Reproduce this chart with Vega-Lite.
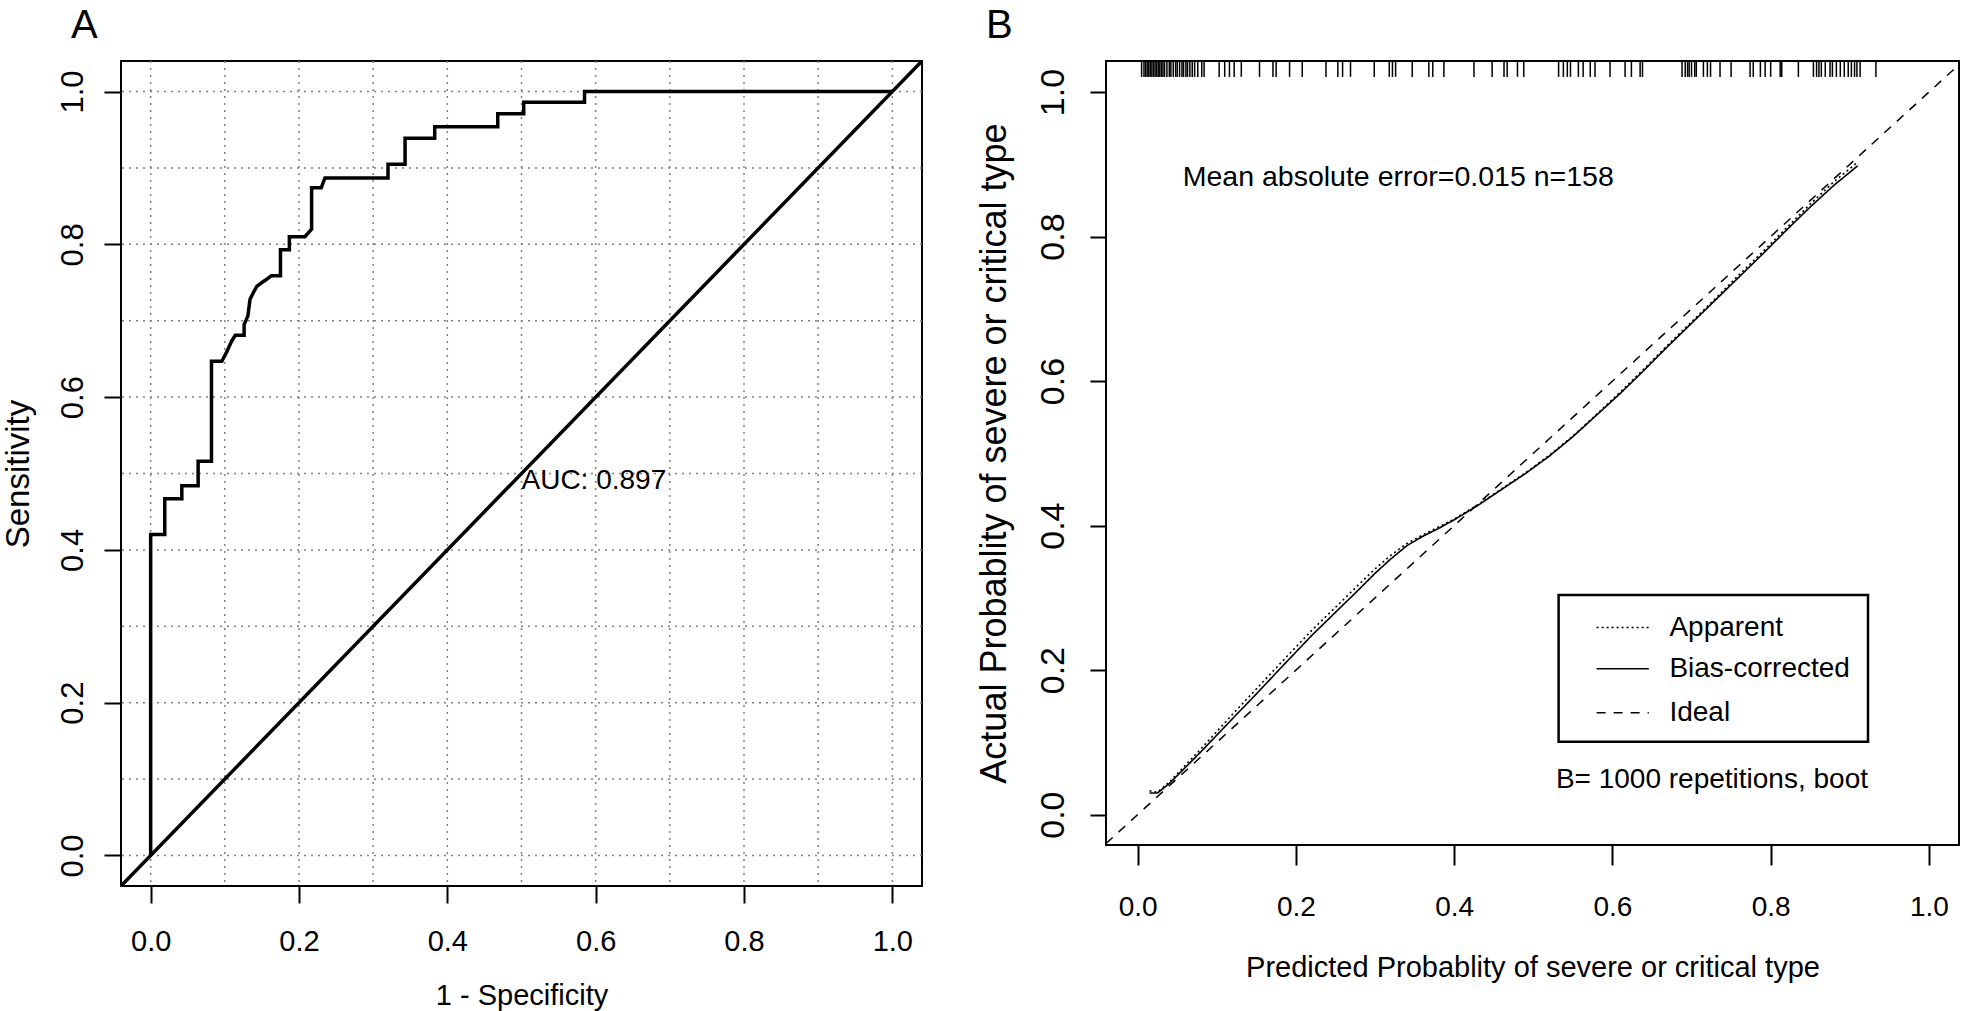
{
  "$schema": "https://vega.github.io/schema/vega-lite/v6.json",
  "padding": {"left": 0, "top": 5, "right": 0, "bottom": 0},
  "bounds": "flush",
  "spacing": 184,
  "config": {
    "font": "Liberation Sans",
    "view": {"stroke": "black", "strokeWidth": 2},
    "axis": {"domain": false, "grid": false, "tickColor": "black", "tickWidth": 2, "labelColor": "black", "titleColor": "black", "titleFontWeight": "normal", "labelFont": "Liberation Sans", "titleFont": "Liberation Sans", "labelFlush": false, "labelOverlap": false, "labelBound": false},
    "title": {"color": "black", "font": "Liberation Sans", "fontWeight": "normal"},
    "text": {"font": "Liberation Sans", "color": "black"},
    "line": {"color": "black"},
    "rule": {"color": "black"}
  },
  "datasets": {
    "grid": [{"g": 0}, {"g": 0.1}, {"g": 0.2}, {"g": 0.3}, {"g": 0.4}, {"g": 0.5}, {"g": 0.6}, {"g": 0.7}, {"g": 0.8}, {"g": 0.9}, {"g": 1.0}],
    "roc": [
      {"ord": 0, "fpr": 0, "tpr": 0},
      {"ord": 1, "fpr": 0, "tpr": 0.42},
      {"ord": 2, "fpr": 0.019, "tpr": 0.42},
      {"ord": 3, "fpr": 0.019, "tpr": 0.467},
      {"ord": 4, "fpr": 0.042, "tpr": 0.467},
      {"ord": 5, "fpr": 0.042, "tpr": 0.484},
      {"ord": 6, "fpr": 0.064, "tpr": 0.484},
      {"ord": 7, "fpr": 0.064, "tpr": 0.516},
      {"ord": 8, "fpr": 0.082, "tpr": 0.516},
      {"ord": 9, "fpr": 0.082, "tpr": 0.647},
      {"ord": 10, "fpr": 0.096, "tpr": 0.647},
      {"ord": 11, "fpr": 0.103, "tpr": 0.66},
      {"ord": 12, "fpr": 0.109, "tpr": 0.673},
      {"ord": 13, "fpr": 0.114, "tpr": 0.681},
      {"ord": 14, "fpr": 0.126, "tpr": 0.681},
      {"ord": 15, "fpr": 0.126, "tpr": 0.695},
      {"ord": 16, "fpr": 0.131, "tpr": 0.706},
      {"ord": 17, "fpr": 0.134, "tpr": 0.728},
      {"ord": 18, "fpr": 0.138, "tpr": 0.736},
      {"ord": 19, "fpr": 0.143, "tpr": 0.745},
      {"ord": 20, "fpr": 0.15, "tpr": 0.75},
      {"ord": 21, "fpr": 0.156, "tpr": 0.754},
      {"ord": 22, "fpr": 0.163, "tpr": 0.759},
      {"ord": 23, "fpr": 0.175, "tpr": 0.759},
      {"ord": 24, "fpr": 0.175, "tpr": 0.793},
      {"ord": 25, "fpr": 0.187, "tpr": 0.793},
      {"ord": 26, "fpr": 0.187, "tpr": 0.81},
      {"ord": 27, "fpr": 0.208, "tpr": 0.81},
      {"ord": 28, "fpr": 0.217, "tpr": 0.82},
      {"ord": 29, "fpr": 0.217, "tpr": 0.874},
      {"ord": 30, "fpr": 0.23, "tpr": 0.874},
      {"ord": 31, "fpr": 0.235, "tpr": 0.887},
      {"ord": 32, "fpr": 0.32, "tpr": 0.887},
      {"ord": 33, "fpr": 0.32, "tpr": 0.905},
      {"ord": 34, "fpr": 0.343, "tpr": 0.905},
      {"ord": 35, "fpr": 0.343, "tpr": 0.939},
      {"ord": 36, "fpr": 0.383, "tpr": 0.939},
      {"ord": 37, "fpr": 0.383, "tpr": 0.954},
      {"ord": 38, "fpr": 0.468, "tpr": 0.954},
      {"ord": 39, "fpr": 0.468, "tpr": 0.971},
      {"ord": 40, "fpr": 0.503, "tpr": 0.971},
      {"ord": 41, "fpr": 0.503, "tpr": 0.986},
      {"ord": 42, "fpr": 0.585, "tpr": 0.986},
      {"ord": 43, "fpr": 0.585, "tpr": 1.0},
      {"ord": 44, "fpr": 1.0, "tpr": 1.0}
    ],
    "diagA": [{"r": -0.04}, {"r": 1.04}],
    "ideal": [{"p": -0.04}, {"p": 1.035}],
    "cal": [
      {"series": "Bias-corrected", "pred": 0.015, "obs": 0.030},
      {"series": "Bias-corrected", "pred": 0.025, "obs": 0.030},
      {"series": "Bias-corrected", "pred": 0.04, "obs": 0.043},
      {"series": "Bias-corrected", "pred": 0.06, "obs": 0.065},
      {"series": "Bias-corrected", "pred": 0.08, "obs": 0.087},
      {"series": "Bias-corrected", "pred": 0.10, "obs": 0.110},
      {"series": "Bias-corrected", "pred": 0.12, "obs": 0.133},
      {"series": "Bias-corrected", "pred": 0.15, "obs": 0.167},
      {"series": "Bias-corrected", "pred": 0.18, "obs": 0.202},
      {"series": "Bias-corrected", "pred": 0.20, "obs": 0.225},
      {"series": "Bias-corrected", "pred": 0.22, "obs": 0.248},
      {"series": "Bias-corrected", "pred": 0.25, "obs": 0.280},
      {"series": "Bias-corrected", "pred": 0.28, "obs": 0.312},
      {"series": "Bias-corrected", "pred": 0.30, "obs": 0.334},
      {"series": "Bias-corrected", "pred": 0.32, "obs": 0.354},
      {"series": "Bias-corrected", "pred": 0.34, "obs": 0.372},
      {"series": "Bias-corrected", "pred": 0.36, "obs": 0.385},
      {"series": "Bias-corrected", "pred": 0.38, "obs": 0.396},
      {"series": "Bias-corrected", "pred": 0.40, "obs": 0.408},
      {"series": "Bias-corrected", "pred": 0.43, "obs": 0.428},
      {"series": "Bias-corrected", "pred": 0.46, "obs": 0.450},
      {"series": "Bias-corrected", "pred": 0.49, "obs": 0.472},
      {"series": "Bias-corrected", "pred": 0.52, "obs": 0.496},
      {"series": "Bias-corrected", "pred": 0.55, "obs": 0.523},
      {"series": "Bias-corrected", "pred": 0.58, "obs": 0.553},
      {"series": "Bias-corrected", "pred": 0.61, "obs": 0.583},
      {"series": "Bias-corrected", "pred": 0.64, "obs": 0.615},
      {"series": "Bias-corrected", "pred": 0.67, "obs": 0.648},
      {"series": "Bias-corrected", "pred": 0.70, "obs": 0.680},
      {"series": "Bias-corrected", "pred": 0.73, "obs": 0.712},
      {"series": "Bias-corrected", "pred": 0.76, "obs": 0.744},
      {"series": "Bias-corrected", "pred": 0.79, "obs": 0.776},
      {"series": "Bias-corrected", "pred": 0.82, "obs": 0.809},
      {"series": "Bias-corrected", "pred": 0.85, "obs": 0.841},
      {"series": "Bias-corrected", "pred": 0.88, "obs": 0.871},
      {"series": "Bias-corrected", "pred": 0.91, "obs": 0.898},
      {"series": "Apparent", "pred": 0.015, "obs": 0.033},
      {"series": "Apparent", "pred": 0.025, "obs": 0.031},
      {"series": "Apparent", "pred": 0.04, "obs": 0.045},
      {"series": "Apparent", "pred": 0.06, "obs": 0.068},
      {"series": "Apparent", "pred": 0.08, "obs": 0.091},
      {"series": "Apparent", "pred": 0.10, "obs": 0.115},
      {"series": "Apparent", "pred": 0.12, "obs": 0.139},
      {"series": "Apparent", "pred": 0.15, "obs": 0.174},
      {"series": "Apparent", "pred": 0.18, "obs": 0.209},
      {"series": "Apparent", "pred": 0.20, "obs": 0.232},
      {"series": "Apparent", "pred": 0.22, "obs": 0.255},
      {"series": "Apparent", "pred": 0.25, "obs": 0.287},
      {"series": "Apparent", "pred": 0.28, "obs": 0.319},
      {"series": "Apparent", "pred": 0.30, "obs": 0.340},
      {"series": "Apparent", "pred": 0.32, "obs": 0.359},
      {"series": "Apparent", "pred": 0.34, "obs": 0.375},
      {"series": "Apparent", "pred": 0.36, "obs": 0.387},
      {"series": "Apparent", "pred": 0.38, "obs": 0.398},
      {"series": "Apparent", "pred": 0.40, "obs": 0.409},
      {"series": "Apparent", "pred": 0.43, "obs": 0.429},
      {"series": "Apparent", "pred": 0.46, "obs": 0.451},
      {"series": "Apparent", "pred": 0.49, "obs": 0.473},
      {"series": "Apparent", "pred": 0.52, "obs": 0.497},
      {"series": "Apparent", "pred": 0.55, "obs": 0.524},
      {"series": "Apparent", "pred": 0.58, "obs": 0.554},
      {"series": "Apparent", "pred": 0.61, "obs": 0.585},
      {"series": "Apparent", "pred": 0.64, "obs": 0.617},
      {"series": "Apparent", "pred": 0.67, "obs": 0.650},
      {"series": "Apparent", "pred": 0.70, "obs": 0.682},
      {"series": "Apparent", "pred": 0.73, "obs": 0.714},
      {"series": "Apparent", "pred": 0.76, "obs": 0.747},
      {"series": "Apparent", "pred": 0.79, "obs": 0.779},
      {"series": "Apparent", "pred": 0.82, "obs": 0.812},
      {"series": "Apparent", "pred": 0.85, "obs": 0.845},
      {"series": "Apparent", "pred": 0.88, "obs": 0.876},
      {"series": "Apparent", "pred": 0.91, "obs": 0.903}
    ],
    "rug": [
      {"u": 0.005}, {"u": 0.008}, {"u": 0.010}, {"u": 0.012}, {"u": 0.014}, {"u": 0.016}, {"u": 0.018}, {"u": 0.020},
      {"u": 0.022}, {"u": 0.024}, {"u": 0.026}, {"u": 0.028}, {"u": 0.030}, {"u": 0.032}, {"u": 0.034}, {"u": 0.037},
      {"u": 0.040}, {"u": 0.042}, {"u": 0.045}, {"u": 0.048}, {"u": 0.050}, {"u": 0.053}, {"u": 0.056}, {"u": 0.058},
      {"u": 0.061}, {"u": 0.063}, {"u": 0.066}, {"u": 0.069}, {"u": 0.072}, {"u": 0.076}, {"u": 0.081}, {"u": 0.084},
      {"u": 0.103}, {"u": 0.110}, {"u": 0.116}, {"u": 0.122}, {"u": 0.131}, {"u": 0.154}, {"u": 0.171}, {"u": 0.175},
      {"u": 0.192}, {"u": 0.208}, {"u": 0.238}, {"u": 0.253}, {"u": 0.259}, {"u": 0.269}, {"u": 0.299}, {"u": 0.318},
      {"u": 0.322}, {"u": 0.326}, {"u": 0.347}, {"u": 0.368}, {"u": 0.373}, {"u": 0.387}, {"u": 0.425}, {"u": 0.448},
      {"u": 0.463}, {"u": 0.467}, {"u": 0.480}, {"u": 0.488}, {"u": 0.532}, {"u": 0.538}, {"u": 0.543}, {"u": 0.547},
      {"u": 0.557}, {"u": 0.563}, {"u": 0.572}, {"u": 0.578}, {"u": 0.597}, {"u": 0.616}, {"u": 0.624}, {"u": 0.635},
      {"u": 0.638}, {"u": 0.688}, {"u": 0.692}, {"u": 0.695}, {"u": 0.697}, {"u": 0.700}, {"u": 0.704}, {"u": 0.706},
      {"u": 0.715}, {"u": 0.720}, {"u": 0.724}, {"u": 0.736}, {"u": 0.750}, {"u": 0.774}, {"u": 0.778}, {"u": 0.787},
      {"u": 0.793}, {"u": 0.800}, {"u": 0.812}, {"u": 0.814}, {"u": 0.835}, {"u": 0.854}, {"u": 0.858}, {"u": 0.861},
      {"u": 0.864}, {"u": 0.869}, {"u": 0.875}, {"u": 0.878}, {"u": 0.883}, {"u": 0.888}, {"u": 0.893}, {"u": 0.898},
      {"u": 0.902}, {"u": 0.906}, {"u": 0.909}, {"u": 0.913}, {"u": 0.933}
    ]
  },
  "hconcat": [
    {
      "width": 801,
      "height": 825,
      "title": {"text": "A", "anchor": "start", "frame": "group", "fontSize": 40, "dx": -50, "offset": -18, "baseline": "alphabetic"},
      "layer": [
        {
          "data": {"name": "grid"},
          "mark": {"type": "rule", "stroke": "#808080", "strokeWidth": 1.5, "strokeDash": [2, 5]},
          "encoding": {
            "x": {"field": "g", "type": "quantitative", "scale": {"domain": [-0.04, 1.04], "nice": false, "zero": false},
              "axis": {"values": [0, 0.2, 0.4, 0.6, 0.8, 1.0], "format": ".1f", "tickSize": 17, "labelFontSize": 29, "labelPadding": 24, "title": "1 - Specificity", "titleFontSize": 29, "titlePadding": 25}}
          }
        },
        {
          "data": {"name": "grid"},
          "mark": {"type": "rule", "stroke": "#808080", "strokeWidth": 1.5, "strokeDash": [2, 5]},
          "encoding": {
            "y": {"field": "g", "type": "quantitative", "scale": {"domain": [-0.04, 1.04], "nice": false, "zero": false},
              "axis": {"values": [0, 0.2, 0.4, 0.6, 0.8, 1.0], "format": ".1f", "tickSize": 17, "labelFontSize": 31, "labelAngle": 270, "labelAlign": "center", "labelBaseline": "alphabetic", "labelPadding": 22, "title": "Sensitivity", "titleFontSize": 33, "titlePadding": 22}}
          }
        },
        {
          "data": {"name": "diagA"},
          "mark": {"type": "line", "strokeWidth": 3.5, "clip": true},
          "encoding": {
            "x": {"field": "r", "type": "quantitative", "scale": {"domain": [-0.04, 1.04], "nice": false, "zero": false}},
            "y": {"field": "r", "type": "quantitative", "scale": {"domain": [-0.04, 1.04], "nice": false, "zero": false}}
          }
        },
        {
          "data": {"name": "roc"},
          "mark": {"type": "line", "strokeWidth": 3.5, "strokeJoin": "miter"},
          "encoding": {
            "x": {"field": "fpr", "type": "quantitative", "scale": {"domain": [-0.04, 1.04], "nice": false, "zero": false}},
            "y": {"field": "tpr", "type": "quantitative", "scale": {"domain": [-0.04, 1.04], "nice": false, "zero": false}},
            "order": {"field": "ord", "type": "quantitative"}
          }
        },
        {
          "data": {"values": [{"label": "AUC: 0.897"}]},
          "mark": {"type": "text", "align": "left", "baseline": "top", "fontSize": 28},
          "encoding": {
            "x": {"datum": 0.5, "type": "quantitative", "scale": {"domain": [-0.04, 1.04], "nice": false, "zero": false}},
            "y": {"datum": 0.508, "type": "quantitative", "scale": {"domain": [-0.04, 1.04], "nice": false, "zero": false}},
            "text": {"field": "label"}
          }
        }
      ]
    },
    {
      "width": 853,
      "height": 784,
      "title": {"text": "B", "anchor": "start", "frame": "group", "fontSize": 40, "dx": -120, "offset": -18, "baseline": "alphabetic"},
      "layer": [
        {
          "data": {"name": "rug"},
          "mark": {"type": "rule", "strokeWidth": 1.5},
          "encoding": {
            "x": {"field": "u", "type": "quantitative", "scale": {"domain": [-0.04, 1.038], "nice": false, "zero": false},
              "axis": {"values": [0, 0.2, 0.4, 0.6, 0.8, 1.0], "format": ".1f", "tickSize": 20, "labelFontSize": 28, "labelPadding": 28, "title": "Predicted Probablity of severe or critical type", "titleFontSize": 29, "titlePadding": 32}},
            "y": {"datum": 1.043, "type": "quantitative", "scale": {"domain": [-0.042, 1.043], "nice": false, "zero": false},
              "axis": {"values": [0, 0.2, 0.4, 0.6, 0.8, 1.0], "format": ".1f", "tickSize": 16, "labelFontSize": 34, "labelAngle": 270, "labelAlign": "center", "labelBaseline": "alphabetic", "labelPadding": 27, "title": "Actual Probablity of severe or critical type", "titleFontSize": 36, "titlePadding": 23}},
            "y2": {"datum": 1.021}
          }
        },
        {
          "data": {"name": "ideal"},
          "mark": {"type": "line", "strokeWidth": 1.5, "strokeDash": [9, 8]},
          "encoding": {
            "x": {"field": "p", "type": "quantitative", "scale": {"domain": [-0.04, 1.038], "nice": false, "zero": false}},
            "y": {"field": "p", "type": "quantitative", "scale": {"domain": [-0.042, 1.043], "nice": false, "zero": false}}
          }
        },
        {
          "data": {"name": "cal"},
          "mark": {"type": "line", "strokeWidth": 1.6},
          "encoding": {
            "x": {"field": "pred", "type": "quantitative", "scale": {"domain": [-0.04, 1.038], "nice": false, "zero": false}},
            "y": {"field": "obs", "type": "quantitative", "scale": {"domain": [-0.042, 1.043], "nice": false, "zero": false}},
            "detail": {"field": "series", "type": "nominal"},
            "strokeDash": {"field": "series", "type": "nominal", "scale": {"domain": ["Apparent", "Bias-corrected"], "range": [[2, 3], [1, 0]]}, "legend": null}
          }
        },
        {
          "data": {"values": [{"label": "box"}]},
          "mark": {"type": "rect", "fillOpacity": 0, "stroke": "black", "strokeWidth": 2.5},
          "encoding": {
            "x": {"datum": 0.532, "type": "quantitative", "scale": {"domain": [-0.04, 1.038], "nice": false, "zero": false}},
            "x2": {"datum": 0.923},
            "y": {"datum": 0.101, "type": "quantitative", "scale": {"domain": [-0.042, 1.043], "nice": false, "zero": false}},
            "y2": {"datum": 0.304}
          }
        },
        {
          "data": {"values": [{"label": "Apparent"}]},
          "mark": {"type": "rule", "strokeWidth": 1.6, "strokeDash": [2, 3]},
          "encoding": {
            "x": {"datum": 0.58, "type": "quantitative", "scale": {"domain": [-0.04, 1.038], "nice": false, "zero": false}},
            "x2": {"datum": 0.646},
            "y": {"datum": 0.259, "type": "quantitative", "scale": {"domain": [-0.042, 1.043], "nice": false, "zero": false}}
          }
        },
        {
          "data": {"values": [{"label": "Bias-corrected"}]},
          "mark": {"type": "rule", "strokeWidth": 1.6},
          "encoding": {
            "x": {"datum": 0.58, "type": "quantitative", "scale": {"domain": [-0.04, 1.038], "nice": false, "zero": false}},
            "x2": {"datum": 0.646},
            "y": {"datum": 0.202, "type": "quantitative", "scale": {"domain": [-0.042, 1.043], "nice": false, "zero": false}}
          }
        },
        {
          "data": {"values": [{"label": "Ideal"}]},
          "mark": {"type": "rule", "strokeWidth": 1.6, "strokeDash": [9, 8]},
          "encoding": {
            "x": {"datum": 0.58, "type": "quantitative", "scale": {"domain": [-0.04, 1.038], "nice": false, "zero": false}},
            "x2": {"datum": 0.646},
            "y": {"datum": 0.141, "type": "quantitative", "scale": {"domain": [-0.042, 1.043], "nice": false, "zero": false}}
          }
        },
        {
          "data": {"values": [{"label": "Apparent", "ly": 0.259}, {"label": "Bias-corrected", "ly": 0.202}, {"label": "Ideal", "ly": 0.141}]},
          "mark": {"type": "text", "align": "left", "baseline": "middle", "fontSize": 28},
          "encoding": {
            "x": {"datum": 0.672, "type": "quantitative", "scale": {"domain": [-0.04, 1.038], "nice": false, "zero": false}},
            "y": {"field": "ly", "type": "quantitative", "scale": {"domain": [-0.042, 1.043], "nice": false, "zero": false}},
            "text": {"field": "label"}
          }
        },
        {
          "data": {"values": [{"label": "Mean absolute error=0.015 n=158"}]},
          "mark": {"type": "text", "align": "left", "baseline": "middle", "fontSize": 28.5},
          "encoding": {
            "x": {"datum": 0.057, "type": "quantitative", "scale": {"domain": [-0.04, 1.038], "nice": false, "zero": false}},
            "y": {"datum": 0.882, "type": "quantitative", "scale": {"domain": [-0.042, 1.043], "nice": false, "zero": false}},
            "text": {"field": "label"}
          }
        },
        {
          "data": {"values": [{"label": "B= 1000 repetitions, boot"}]},
          "mark": {"type": "text", "align": "right", "baseline": "middle", "fontSize": 28},
          "encoding": {
            "x": {"datum": 0.923, "type": "quantitative", "scale": {"domain": [-0.04, 1.038], "nice": false, "zero": false}},
            "y": {"datum": 0.048, "type": "quantitative", "scale": {"domain": [-0.042, 1.043], "nice": false, "zero": false}},
            "text": {"field": "label"}
          }
        }
      ]
    }
  ]
}
